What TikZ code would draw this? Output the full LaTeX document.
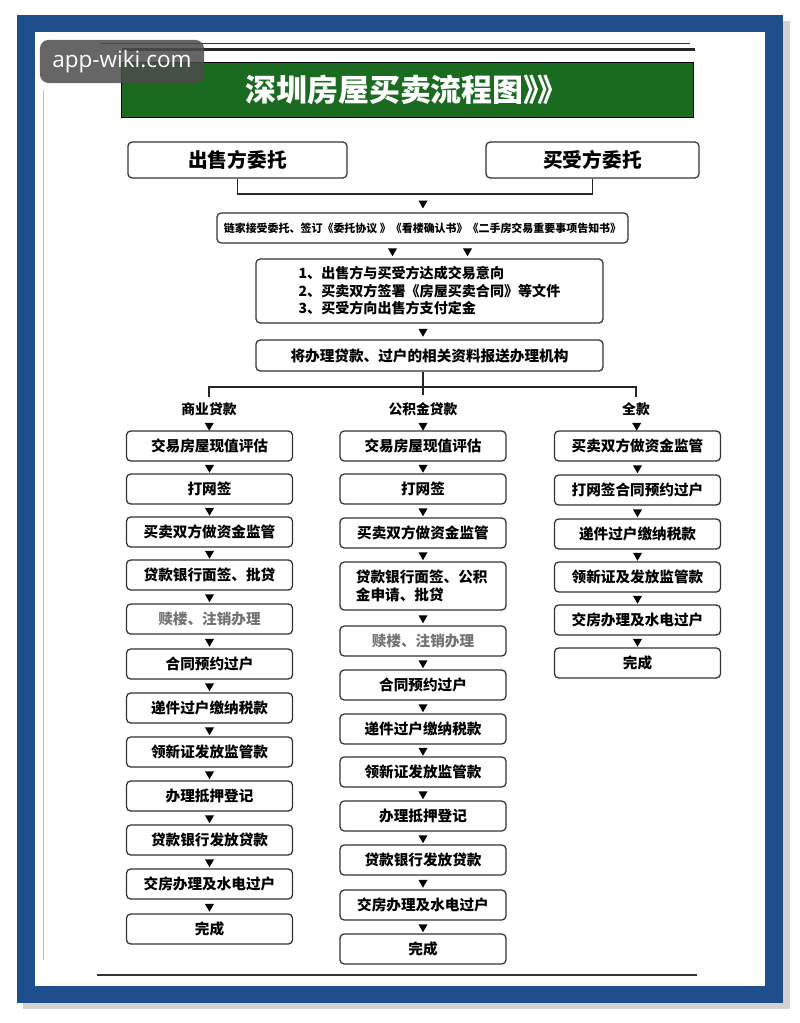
\documentclass[tikz,border=0pt]{standalone}
\usepackage{fontspec}
\setmainfont{Noto Sans CJK SC}
\newfontfamily\wmfont{Open Sans}
\usetikzlibrary{shapes.geometric}
\definecolor{frameblue}{RGB}{31,78,140}
\definecolor{bannergreen}{RGB}{26,107,32}

\begin{document}
\begin{tikzpicture}[
            x=0.025cm, y=-0.025cm,
            every node/.style={font=\bfseries},
            banner/.style={
                rectangle,
                draw=black,
                line width=0.6pt,
                fill=bannergreen,
                minimum width=14.3cm,
                minimum height=1.375cm,
                text=white,
                font=\bfseries\fontsize{22}{26}\selectfont
            },
            entrust/.style={
                rectangle,
                draw=black!80,
                line width=0.9pt,
                fill=white,
                rounded corners=3pt,
                minimum height=0.9cm,
                font=\bfseries\fontsize{14}{16}\selectfont
            },
            stage/.style={
                rectangle,
                draw=black!80,
                line width=0.9pt,
                fill=white,
                rounded corners=3pt,
                minimum height=0.75cm,
                font=\bfseries\fontsize{10.4}{12.5}\selectfont
            },
            stepbox/.style={
                stage,
                minimum width=4.15cm
            },
            faded/.style={text=black!55},
            kind/.style={font=\bfseries\fontsize{9.8}{11}\selectfont},
            tri/.style={
                regular polygon,
                regular polygon sides=3,
                shape border rotate=180,
                fill=black,
                inner sep=0pt,
                minimum size=0.26cm
            },
            branch/.style={
                draw=black!85,
                line width=1.4pt
            },
            wmark/.style={
                rectangle,
                rounded corners=6pt,
                fill=black!70,
                fill opacity=0.85,
                text opacity=1,
                text=white,
                minimum width=4.1cm,
                minimum height=1.075cm,
                font=\wmfont\fontsize{16}{18}\selectfont
            }
        ]
            \useasboundingbox (0,0) rectangle (800,1023);

            % Page frame
            \fill[white] (0,0) rectangle (800,1023);
            \fill[gray!35] (23,21) rectangle (790,1009);
            \fill[frameblue] (17,15) rectangle (783,1003);
            \fill[white] (35,32) rectangle (765,986);
            \draw[black!80, line width=0.3pt] (100,43) -- (690,43);
            \draw[black!85, line width=1.6pt] (122,49.5) -- (695,49.5);
            \draw[black!80, line width=0.9pt] (97,975) -- (697,975);
            \draw[black!25, line width=0.4pt] (43,90) -- (43,960);

            % Title
            \node[banner] (title) at (407,89.5) {深圳房屋买卖流程图》\hspace{-0.55em}》};

            % Entrusting parties
            \node[entrust, minimum width=5.475cm] (seller) at (237.5,160) {出售方委托};
            \node[entrust, minimum width=5.325cm] (buyer) at (592.5,160) {买受方委托};
            \coordinate (join) at (423,194);

            % Common steps
            \node[stage, minimum width=10.275cm, font=\bfseries\fontsize{7.8}{9}\selectfont] (agent) at (422.5,228)
                {链家接受委托、签订《委托协议 》《看楼确认书》《二手房交易重要事项告知书》};
            \node[stage, minimum width=8.675cm, minimum height=1.6cm, align=left,
                font=\bfseries\fontsize{10}{12.4}\selectfont] (deal) at (429.5,291)
                {1、出售方与买受方达成交易意向\\2、买卖双方签署《房屋买卖合同》等文件\\3、买受方向出售方支付定金};
            \node[stage, minimum width=8.675cm, minimum height=0.775cm] (submit) at (429.5,355.5)
                {将办理贷款、过户的相关资料报送办理机构};
            \coordinate (hub) at (423,387);
            \coordinate (hubtail) at (423,395);

            % Payment types
            \node[kind] (typeA) at (209,409) {商业贷款};
            \node[kind] (typeB) at (423,409) {公积金贷款};
            \node[kind] (typeC) at (636,409) {全款};

            % Commercial loan
            \node[stepbox] (a1) at (209.5,446) {交易房屋现值评估};
            \node[stepbox] (a2) at (209.5,489) {打网签};
            \node[stepbox] (a3) at (209.5,532) {买卖双方做资金监管};
            \node[stepbox] (a4) at (209.5,575) {贷款银行面签、批贷};
            \node[stepbox, faded] (a5) at (209.5,619) {赎楼、注销办理};
            \node[stepbox] (a6) at (209.5,664) {合同预约过户};
            \node[stepbox] (a7) at (209.5,708) {递件过户缴纳税款};
            \node[stepbox] (a8) at (209.5,752) {领新证发放监管款};
            \node[stepbox] (a9) at (209.5,796) {办理抵押登记};
            \node[stepbox] (a10) at (209.5,840) {贷款银行发放贷款};
            \node[stepbox] (a11) at (209.5,884) {交房办理及水电过户};
            \node[stepbox] (a12) at (209.5,929) {完成};

            % Provident fund loan
            \node[stepbox] (b1) at (423,446) {交易房屋现值评估};
            \node[stepbox] (b2) at (423,489) {打网签};
            \node[stepbox] (b3) at (423,533) {买卖双方做资金监管};
            \node[stepbox, minimum height=1.2cm, text width=3.35cm, align=left] (b4) at (423,586)
                {贷款银行面签、公积\\金申请、批贷};
            \node[stepbox, faded] (b5) at (423,641) {赎楼、注销办理};
            \node[stepbox] (b6) at (423,685) {合同预约过户};
            \node[stepbox] (b7) at (423,729) {递件过户缴纳税款};
            \node[stepbox] (b8) at (423,772) {领新证发放监管款};
            \node[stepbox] (b9) at (423,816) {办理抵押登记};
            \node[stepbox] (b10) at (423,860) {贷款银行发放贷款};
            \node[stepbox] (b11) at (423,905) {交房办理及水电过户};
            \node[stepbox] (b12) at (423,949) {完成};

            % Full payment
            \node[stepbox] (c1) at (637.5,446) {买卖双方做资金监管};
            \node[stepbox] (c2) at (637.5,490) {打网签合同预约过户};
            \node[stepbox] (c3) at (637.5,534) {递件过户缴纳税款};
            \node[stepbox] (c4) at (637.5,577) {领新证及发放监管款};
            \node[stepbox] (c5) at (637.5,620) {交房办理及水电过户};
            \node[stepbox] (c6) at (637.5,663) {完成};

            % Bracket and branches
            \draw[branch] (seller.south) |- (join) -| (buyer.south);
            \draw[branch] (submit.south -| hub) -- (hubtail);
            \draw[branch] (typeA.north) |- (hub) -| (typeC.north);

            % Flow marks
            \path (join) -- node[tri] (t0) {} (join |- agent.north);
            \path ([xshift=-0.75cm]agent.south) -- node[tri] (t1) {} ([xshift=-0.75cm]agent.south |- deal.north);
            \path ([xshift=1.125cm]agent.south) -- node[tri] (t2) {} ([xshift=1.125cm]agent.south |- deal.north);
            \path (join |- deal.south) -- node[tri] (t3) {} (join |- submit.north);
            \path (typeA) -- node[tri] (ta1) {} (a1) -- node[tri] (ta2) {} (a2) -- node[tri] (ta3) {} (a3)
                -- node[tri] (ta4) {} (a4) -- node[tri] (ta5) {} (a5) -- node[tri] (ta6) {} (a6)
                -- node[tri] (ta7) {} (a7) -- node[tri] (ta8) {} (a8) -- node[tri] (ta9) {} (a9)
                -- node[tri] (ta10) {} (a10) -- node[tri] (ta11) {} (a11) -- node[tri] (ta12) {} (a12);
            \path (typeB) -- node[tri] (tb1) {} (b1) -- node[tri] (tb2) {} (b2) -- node[tri] (tb3) {} (b3)
                -- node[tri] (tb4) {} (b4) -- node[tri] (tb5) {} (b5) -- node[tri] (tb6) {} (b6)
                -- node[tri] (tb7) {} (b7) -- node[tri] (tb8) {} (b8) -- node[tri] (tb9) {} (b9)
                -- node[tri] (tb10) {} (b10) -- node[tri] (tb11) {} (b11) -- node[tri] (tb12) {} (b12);
            \path (typeC) -- node[tri] (tc1) {} (c1) -- node[tri] (tc2) {} (c2) -- node[tri] (tc3) {} (c3)
                -- node[tri] (tc4) {} (c4) -- node[tri] (tc5) {} (c5) -- node[tri] (tc6) {} (c6);

            % Watermark
            \node[wmark] (wm) at (122,61.5) {app-wiki.com};
        \end{tikzpicture}
\end{document}
